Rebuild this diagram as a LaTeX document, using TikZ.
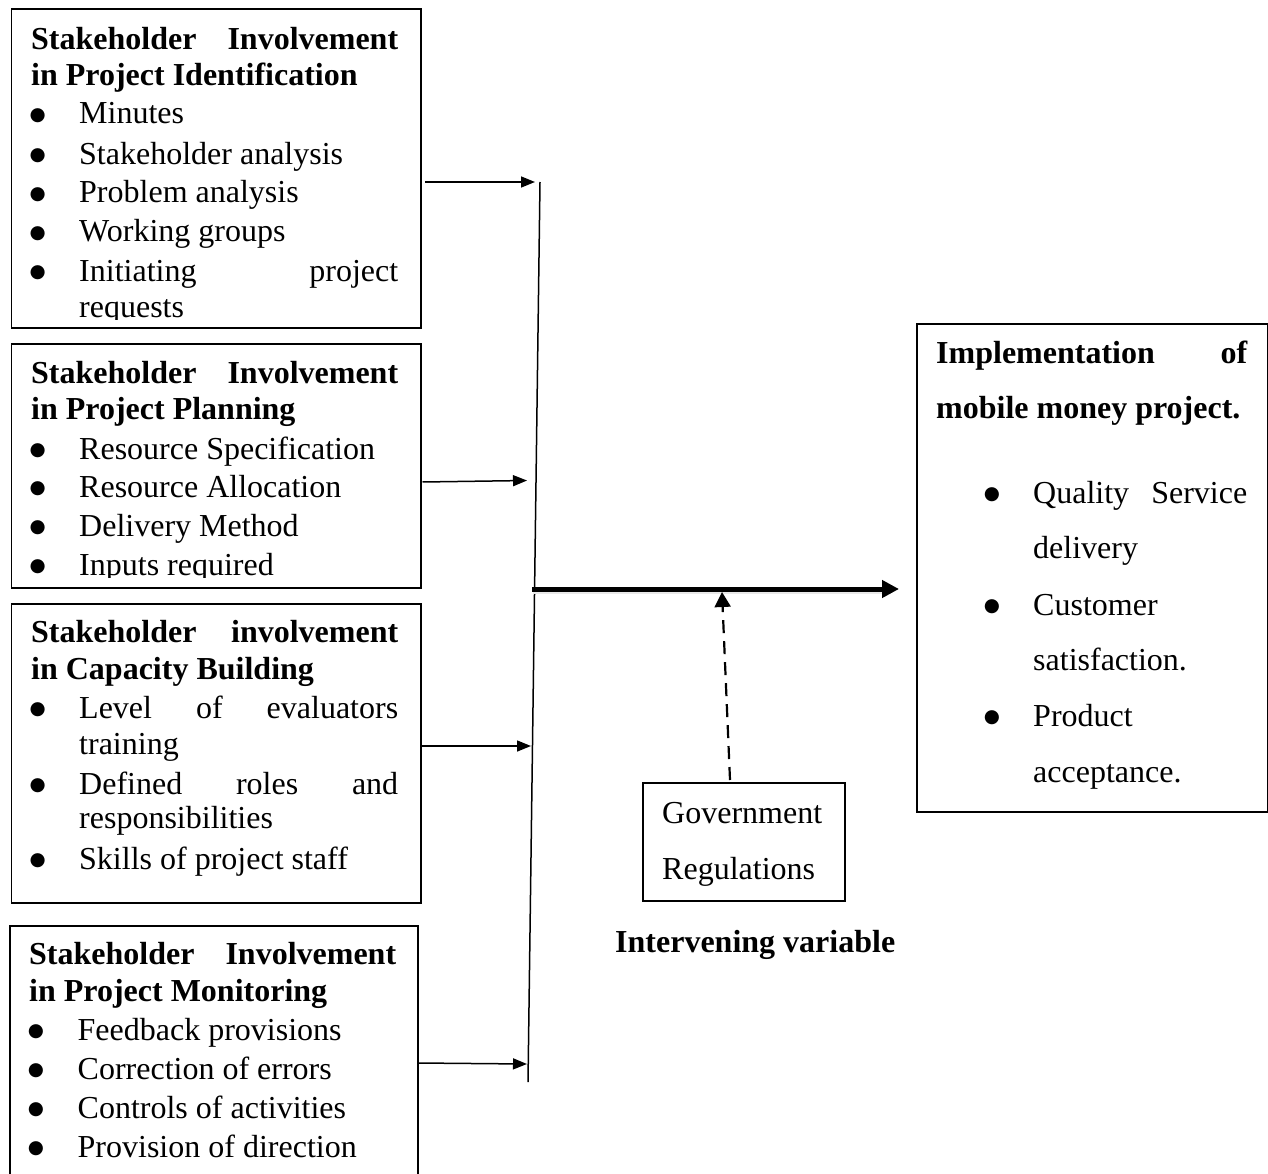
\documentclass[tikz,border=0pt]{standalone}
\usepackage{fontspec}
\setmainfont{Liberation Serif}
\newfontfamily\bulfont{DejaVu Sans}
\usetikzlibrary{arrows.meta}
\begin{document}
\begin{tikzpicture}[x=1pt,y=-1pt,
  boxnode/.style={draw, line width=1.5pt, inner sep=0pt, anchor=north west},
  tx/.style={anchor=base west, inner sep=0pt, font=\fontsize{32pt}{39pt}\selectfont},
  hd/.style={anchor=base west, inner sep=0pt, font=\fontsize{32pt}{39pt}\selectfont\bfseries},
  bul/.style={anchor=center, inner sep=0pt, font=\bulfont\fontsize{18.5pt}{20pt}\selectfont},
  arr/.style={line width=1.5pt, -{Triangle[length=14pt,width=11pt]}},
  bigarr/.style={line width=5pt, -{Triangle[length=17pt,width=17pt]}},
  dasharr/.style={line width=2.2pt, dash pattern=on 13pt off 8pt, -{Triangle[length=15pt,width=16pt]}}
]
\clip (0,0) rectangle (1268,1174);
\fill[white] (0,0) rectangle (1268,1174);

% ---- boxes ----
\node[boxnode, minimum width=409.5pt, minimum height=318.5pt] (b1) at (10.5,8.5) {};
\node[boxnode, minimum width=409.5pt, minimum height=244pt] (b2) at (10.5,343) {};
\node[boxnode, minimum width=409.5pt, minimum height=299pt] (b3) at (10.5,603) {};
\node[boxnode, minimum width=408pt, minimum height=270pt] (b4) at (9,925) {};
\node[boxnode, minimum width=351pt, minimum height=488pt] (br) at (916,323) {};
\node[boxnode, minimum width=202pt, minimum height=118pt] (bg) at (642,782) {};

% ---- box 1 ----
\begin{scope}
\clip (10,8) rectangle (421,319);
\node[hd] (b1h1) at (31,50) {\makebox[367pt][s]{Stakeholder Involvement}};
\node[hd] (b1h2) at (31,86) {in Project Identification};
\node[bul] (b1d1) at (37.7,115.5) {●};
\node[tx] (b1t1) at (79,124) {Minutes};
\node[bul] (b1d2) at (37.7,156) {●};
\node[tx] (b1t2) at (79,164.5) {Stakeholder analysis};
\node[bul] (b1d3) at (37.7,194.5) {●};
\node[tx] (b1t3) at (79,203) {Problem analysis};
\node[bul] (b1d4) at (37.7,233.5) {●};
\node[tx] (b1t4) at (79,242) {Working groups};
\node[bul] (b1d5) at (37.7,272.5) {●};
\node[tx] (b1t5) at (79,281) {\makebox[319pt][s]{Initiating project}};
\node[tx] (b1t6) at (79,317) {requests};
\end{scope}

% ---- box 2 ----
\begin{scope}
\clip (10,343) rectangle (421,577);
\node[hd] (b2h1) at (31,383) {\makebox[367pt][s]{Stakeholder Involvement}};
\node[hd] (b2h2) at (31,419) {in Project Planning};
\node[bul] (b2d1) at (37.7,450.5) {●};
\node[tx] (b2t1) at (79,459) {Resource Specification};
\node[bul] (b2d2) at (37.7,489) {●};
\node[tx] (b2t2) at (79,497.5) {Resource Allocation};
\node[bul] (b2d3) at (37.7,527.5) {●};
\node[tx] (b2t3) at (79,536) {Delivery Method};
\node[bul] (b2d4) at (37.7,566.5) {●};
\node[tx] (b2t4) at (79,575) {Inputs required};
\end{scope}

% ---- box 3 ----
\node[hd] (b3h1) at (31,642) {\makebox[367pt][s]{Stakeholder involvement}};
\node[hd] (b3h2) at (31,679) {in Capacity Building};
\node[bul] (b3d1) at (37.7,710) {●};
\node[tx] (b3t1) at (79,718.5) {\makebox[319pt][s]{Level of evaluators}};
\node[tx] (b3t2) at (79,754) {training};
\node[bul] (b3d2) at (37.7,785.5) {●};
\node[tx] (b3t3) at (79,794) {\makebox[319pt][s]{Defined roles and}};
\node[tx] (b3t4) at (79,828) {responsibilities};
\node[bul] (b3d3) at (37.7,860.5) {●};
\node[tx] (b3t5) at (79,869) {Skills of project staff};

% ---- box 4 ----
\node[hd] (b4h1) at (29,964) {\makebox[367pt][s]{Stakeholder Involvement}};
\node[hd] (b4h2) at (29,1001.5) {in Project Monitoring};
\node[bul] (b4d1) at (36,1032) {●};
\node[tx] (b4t1) at (77.5,1040.5) {Feedback provisions};
\node[bul] (b4d2) at (36,1070.5) {●};
\node[tx] (b4t2) at (77.5,1079) {Correction of errors};
\node[bul] (b4d3) at (36,1109.5) {●};
\node[tx] (b4t3) at (77.5,1118) {Controls of activities};
\node[bul] (b4d4) at (36,1148.5) {●};
\node[tx] (b4t4) at (77.5,1157) {Provision of direction};

% ---- right box ----
\node[hd] (brh1) at (936,363) {\makebox[311pt][s]{Implementation of}};
\node[hd] (brh2) at (936,418) {mobile money project.};
\node[bul] (brd1) at (992,494.5) {●};
\node[tx] (brt1) at (1033,503) {\makebox[214pt][s]{Quality Service}};
\node[tx] (brt2) at (1033,558) {delivery};
\node[bul] (brd2) at (992,606.5) {●};
\node[tx] (brt3) at (1033,615) {Customer};
\node[tx] (brt4) at (1033,670.5) {satisfaction.};
\node[bul] (brd3) at (992,717.5) {●};
\node[tx] (brt5) at (1033,726) {Product};
\node[tx] (brt6) at (1033,782) {acceptance.};

% ---- government box ----
\node[tx] (bgt1) at (662,823) {Government};
\node[tx] (bgt2) at (662,879) {Regulations};
\node[hd] (iv) at (615,952) {Intervening variable};

% ---- connectors ----
\coordinate (vtop) at (540,182);
\coordinate (vbot) at (528,1082);
\draw[line width=1.5pt] (vtop) -- (vbot);

\coordinate (s1) at (425,182);   \coordinate (e1) at (535,182);
\coordinate (s2) at (422.5,482); \coordinate (e2) at (527,480.5);
\coordinate (s3) at (422,746);   \coordinate (e3) at (531,746);
\coordinate (s4) at (418,1063);  \coordinate (e4) at (527,1064);
\draw[arr] (s1) -- (e1);
\draw[arr] (s2) -- (e2);
\draw[arr] (s3) -- (e3);
\draw[arr] (s4) -- (e4);

\coordinate (ts) at (532,589);
\coordinate (te) at (899,589);
\draw[line width=4pt, black!9] ([xshift=1pt,yshift=-2.5pt]ts) -- ([xshift=-12pt,yshift=-2.5pt]te);
\draw[bigarr] (ts) -- (te);

\coordinate (ds) at (730,780);
\coordinate (de) at (722,592);
\draw[dasharr] (ds) -- (de);
\end{tikzpicture}
\end{document}
